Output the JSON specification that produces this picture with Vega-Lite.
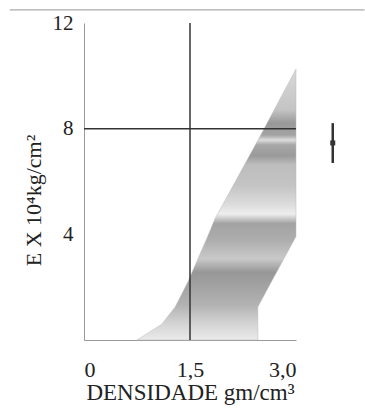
{
  "$schema": "https://vega.github.io/schema/vega-lite/v6.json",
  "width": 212,
  "height": 317,
  "autosize": {"type": "none"},
  "padding": {"left": 84, "top": 23, "right": 69, "bottom": 79},
  "background": "white",
  "config": {"view": {"stroke": null}, "font": "Liberation Serif"},
  "datasets": {
    "region": [
      {"E": 0, "xl": 0.75, "xr": 2.46},
      {"E": 0.6, "xl": 1.10, "xr": 2.46},
      {"E": 1.25, "xl": 1.29, "xr": 2.46},
      {"E": 2.2, "xl": 1.47, "xr": 2.65},
      {"E": 3.92, "xl": 1.75, "xr": 3.0},
      {"E": 4.57, "xl": 1.85, "xr": 3.0},
      {"E": 7.9, "xl": 2.53, "xr": 3.0},
      {"E": 10.26, "xl": 3.0, "xr": 3.0}
    ],
    "vline": [{"x": 1.5, "E0": 0, "E1": 12}],
    "hline": [{"E": 8, "x0": 0, "x1": 3}],
    "frame": [{"E": 12.5, "x0": -1.05, "x1": 3.97}],
    "marker": [{"x": 3.52, "lo": 6.7, "hi": 8.21, "mid": 7.46}]
  },
  "layer": [
    {
      "data": {"name": "region"},
      "mark": {
        "type": "area",
        "orient": "horizontal",
        "fill": {
          "gradient": "linear", "x1": 0, "y1": 0, "x2": 0, "y2": 1,
          "stops": [
            {"offset": 0, "color": "#d8d8d8"},
            {"offset": 0.15, "color": "#c4c4c4"},
            {"offset": 0.2, "color": "#999999"},
            {"offset": 0.244, "color": "#a3a3a3"},
            {"offset": 0.262, "color": "#dddddd"},
            {"offset": 0.28, "color": "#a8a8a8"},
            {"offset": 0.32, "color": "#9a9a9a"},
            {"offset": 0.354, "color": "#bdbdbd"},
            {"offset": 0.43, "color": "#c4c4c4"},
            {"offset": 0.5, "color": "#dcdcdc"},
            {"offset": 0.535, "color": "#eeeeee"},
            {"offset": 0.57, "color": "#a3a3a3"},
            {"offset": 0.63, "color": "#adadad"},
            {"offset": 0.7, "color": "#c9c9c9"},
            {"offset": 0.75, "color": "#979797"},
            {"offset": 0.8, "color": "#a2a2a2"},
            {"offset": 0.87, "color": "#b2b2b2"},
            {"offset": 0.94, "color": "#d4d4d4"},
            {"offset": 1, "color": "#eaeaea"}
          ]
        },
        "stroke": "#bbbbbb",
        "strokeWidth": 0.5
      },
      "encoding": {
        "y": {
          "field": "E", "type": "quantitative",
          "scale": {"domain": [0, 12], "nice": false, "zero": true},
          "title": "E X 10⁴kg/cm²",
          "axis": {
            "values": [4, 8, 12],
            "grid": false, "ticks": false,
            "domainColor": "#999999", "domainWidth": 1,
            "labelFont": "Liberation Serif", "labelFontSize": 21, "labelColor": "#222222",
            "labelPadding": 11,
            "titleFont": "Liberation Serif", "titleFontSize": 22, "titleFontWeight": "normal", "titleColor": "#222222",
            "titleX": -51, "titleY": 177, "titleBaseline": "middle", "titleAngle": -90
          }
        },
        "x": {
          "field": "xl", "type": "quantitative",
          "scale": {"domain": [0, 3], "nice": false, "zero": true},
          "title": "DENSIDADE gm/cm³",
          "axis": {
            "values": [0, 1.5, 3],
            "labelExpr": "datum.value == 0 ? '0' : replace(format(datum.value, '.1f'), '.', ',')",
            "grid": false, "ticks": false,
            "domainColor": "#999999", "domainWidth": 1,
            "labelFont": "Liberation Serif", "labelFontSize": 22, "labelColor": "#222222",
            "labelPadding": 19,
            "titleFont": "Liberation Serif", "titleFontSize": 23, "titleFontWeight": "normal", "titleColor": "#222222",
            "titlePadding": 1
          }
        },
        "x2": {"field": "xr"}
      }
    },
    {
      "data": {"name": "vline"},
      "mark": {"type": "rule", "color": "#333333", "strokeWidth": 1.5},
      "encoding": {
        "x": {"field": "x", "type": "quantitative", "title": "DENSIDADE gm/cm³"},
        "y": {"field": "E0", "type": "quantitative", "title": "E X 10⁴kg/cm²"},
        "y2": {"field": "E1"}
      }
    },
    {
      "data": {"name": "hline"},
      "mark": {"type": "rule", "color": "#333333", "strokeWidth": 1.5},
      "encoding": {
        "y": {"field": "E", "type": "quantitative", "title": "E X 10⁴kg/cm²"},
        "x": {"field": "x0", "type": "quantitative", "title": "DENSIDADE gm/cm³"},
        "x2": {"field": "x1"}
      }
    },
    {
      "data": {"name": "frame"},
      "mark": {"type": "rule", "color": "#aaaaaa", "strokeWidth": 1.2},
      "encoding": {
        "y": {"field": "E", "type": "quantitative", "title": "E X 10⁴kg/cm²"},
        "x": {"field": "x0", "type": "quantitative", "title": "DENSIDADE gm/cm³"},
        "x2": {"field": "x1"}
      }
    },
    {
      "data": {"name": "marker"},
      "mark": {"type": "rule", "color": "#333333", "strokeWidth": 2.5},
      "encoding": {
        "x": {"field": "x", "type": "quantitative", "title": "DENSIDADE gm/cm³"},
        "y": {"field": "lo", "type": "quantitative", "title": "E X 10⁴kg/cm²"},
        "y2": {"field": "hi"}
      }
    },
    {
      "data": {"name": "marker"},
      "mark": {"type": "square", "color": "#333333", "opacity": 1, "filled": true, "size": 25},
      "encoding": {
        "x": {"field": "x", "type": "quantitative", "title": "DENSIDADE gm/cm³"},
        "y": {"field": "mid", "type": "quantitative", "title": "E X 10⁴kg/cm²"}
      }
    }
  ]
}
